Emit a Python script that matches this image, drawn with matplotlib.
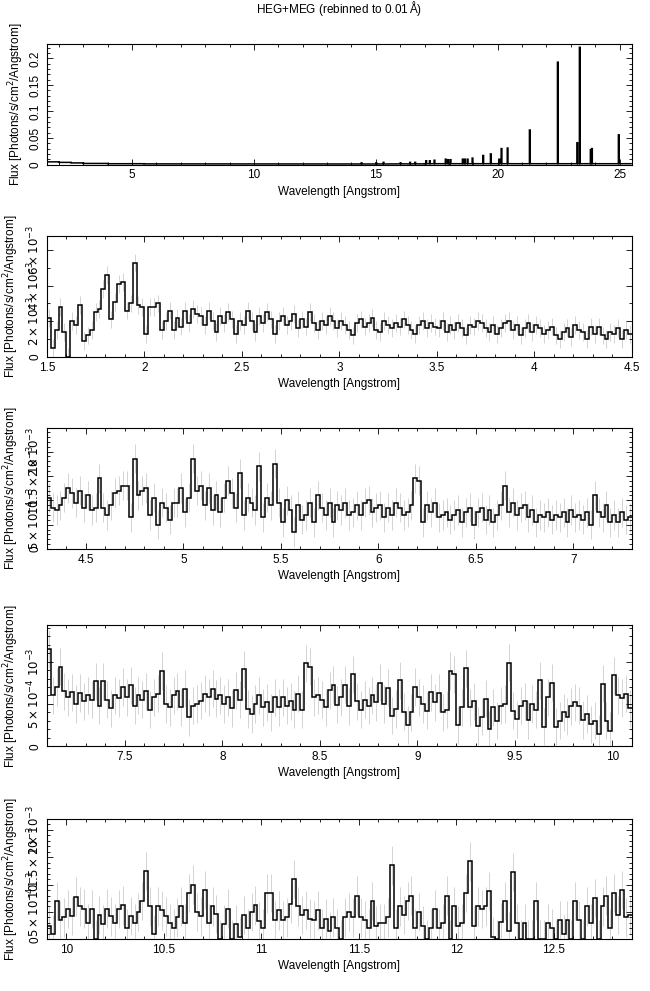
import numpy as np
import matplotlib
matplotlib.use("Agg")
import matplotlib.pyplot as plt
from matplotlib.ticker import FixedLocator, FixedFormatter, AutoMinorLocator

plt.rcParams['font.family'] = ['Liberation Sans', 'DejaVu Sans']
plt.rcParams['font.size'] = 8.5

# ---------------- Panel 1: full range, line list + coarse continuum ----------------
p1_cont_start = 1.5
p1_cont_step = 0.5
p1_cont = [0.005, 0.004, 0.003, 0.002, 0.002, 0.0015, 0.0015, 0.0015, 0.0012, 0.0012,
           0.001, 0.001, 0.001, 0.001, 0.001, 0.001, 0.001, 0.001, 0.001, 0.001,
           0.001, 0.001, 0.001, 0.001, 0.001, 0.001, 0.001, 0.001, 0.0012, 0.0012,
           0.0012, 0.0015, 0.0015, 0.0015, 0.0015, 0.0015, 0.0015, 0.0015, 0.0015, 0.0015,
           0.0015, 0.0015, 0.0015, 0.0015, 0.0015, 0.0015, 0.0015, 0.0015]
p1_line_wl = [14.4, 15.0, 15.3, 16.0, 16.4, 16.6, 17.05, 17.2, 17.4, 17.85, 17.95, 18.05,
              18.55, 18.65, 18.75, 18.95, 19.4, 19.7, 20.05, 20.15, 20.4, 21.3, 22.45,
              23.25, 23.35, 23.8, 23.85, 24.95]
p1_line_flux = [0.003, 0.003, 0.004, 0.003, 0.004, 0.004, 0.007, 0.007, 0.008, 0.010, 0.009, 0.009,
                0.010, 0.010, 0.010, 0.012, 0.017, 0.020, 0.010, 0.030, 0.031, 0.065, 0.193,
                0.041, 0.221, 0.028, 0.030, 0.056]

# ---------------- Panels 2-5: 0.02 A bins ----------------
bin_step = 0.02
p2_start, p2_scale = 1.5, 1e-3
p2 = [2.2,0.5,1.5,2.8,1.4,0.0,2.0,1.8,2.9,0.9,
      1.2,1.5,2.5,2.7,3.8,4.6,2.1,3.1,4.1,4.2,
      2.6,3.0,5.3,2.9,2.8,1.3,2.8,2.8,3.0,1.5,
      2.0,2.6,1.5,2.2,1.7,2.6,1.9,2.7,2.4,2.3,
      1.8,2.6,2.0,1.4,2.3,1.9,2.5,2.1,1.3,2.0,
      1.8,2.6,2.0,1.4,2.3,1.9,2.5,2.1,1.3,2.0,
      2.3,1.8,2.0,2.4,1.6,2.1,1.7,2.5,1.9,1.5,
      2.0,1.8,2.3,2.0,1.6,2.0,1.8,1.5,1.2,1.9,
      2.1,1.7,1.9,2.2,1.5,1.4,2.0,1.8,1.6,1.9,
      1.7,2.1,1.8,1.5,1.3,1.8,2.0,1.6,1.9,1.7,
      1.6,2.0,1.4,1.8,1.5,1.9,1.6,1.2,1.8,1.7,
      2.0,1.9,1.6,1.4,1.8,1.3,1.6,1.9,2.0,1.5,
      1.8,1.2,1.6,1.9,1.4,1.8,1.6,1.3,1.5,1.7,
      1.2,1.0,1.4,1.6,1.1,1.8,1.5,1.4,1.0,1.7,
      1.3,1.7,1.2,1.0,1.4,1.3,1.6,1.0,1.5,1.3]
p2_err = 0.5

p3_start, p3_scale = 4.3, 1e-3
p3 = [1.05,0.85,0.80,0.90,1.05,1.25,1.15,0.95,1.20,0.85,
      1.10,0.80,0.85,1.45,0.85,0.70,0.90,1.15,1.20,1.30,
      1.30,0.65,1.85,1.10,1.20,1.25,0.70,1.05,0.50,0.95,
      0.85,0.60,0.95,0.95,1.25,0.75,1.05,1.85,1.20,1.30,
      0.90,1.25,0.80,1.10,0.75,1.05,1.40,1.15,0.85,1.55,
      0.70,1.05,0.95,0.80,1.70,0.65,1.05,0.90,1.75,0.95,
      0.55,1.00,0.80,0.35,0.90,0.60,0.70,0.95,0.55,1.10,
      0.85,0.70,0.95,0.55,0.90,0.80,0.95,0.70,0.75,0.90,
      0.70,0.95,1.00,0.75,0.85,0.90,0.65,0.85,0.70,0.95,
      0.85,0.70,0.75,0.90,1.45,1.40,0.55,0.90,0.75,0.95,
      0.65,0.70,0.75,0.60,0.70,0.80,0.55,0.75,0.85,0.50,
      0.75,0.85,0.60,0.80,0.55,0.70,0.90,1.30,0.75,0.95,
      0.70,0.85,0.90,0.65,0.80,0.55,0.70,0.65,0.75,0.60,
      0.70,0.65,0.75,0.55,0.80,0.65,0.70,0.60,0.75,0.50,
      1.10,0.75,0.65,0.90,0.55,0.70,0.55,0.75,0.60,0.65]
p3_err = 0.3

p4_start, p4_scale = 7.1, 1e-4
p4 = [11.5,6.0,7.0,9.4,6.5,5.8,6.4,5.0,6.3,5.3,
      6.0,5.5,7.7,4.8,7.7,5.5,4.5,6.0,5.7,7.0,
      5.8,7.2,4.8,6.0,5.5,6.5,4.3,5.8,6.2,8.9,
      5.0,4.6,6.0,6.5,4.6,6.8,3.4,4.8,5.0,5.4,
      6.2,5.8,6.8,5.6,6.0,5.0,5.8,4.5,6.6,5.5,
      9.1,4.4,3.8,5.0,6.0,4.6,5.2,4.0,5.8,4.6,
      5.8,4.8,5.3,4.3,6.2,4.3,9.8,9.4,5.8,6.0,
      5.5,4.6,6.6,7.3,4.9,5.8,7.3,4.7,8.5,5.3,
      4.3,5.5,4.8,6.0,5.2,7.5,5.0,6.9,3.6,4.4,
      7.8,4.1,2.5,4.0,7.0,5.8,5.0,4.2,6.4,5.2,
      6.3,4.0,4.3,8.9,8.5,2.5,4.6,9.2,4.6,5.3,
      2.4,3.5,5.6,2.0,4.6,3.0,4.8,5.0,9.9,4.2,
      3.2,4.8,5.3,3.1,5.0,4.3,7.8,2.3,5.8,7.5,
      2.3,3.0,4.0,3.5,4.7,5.2,4.8,3.1,3.8,2.6,
      3.0,1.5,7.4,3.0,1.8,8.4,6.0,5.7,6.2,4.5]
p4_err = 2.2

p5_start, p5_scale = 9.9, 1e-4
p5 = [2.5,1.0,7.0,3.5,4.0,5.5,4.3,7.8,6.0,5.6,
      3.0,5.5,0.0,4.5,2.8,5.6,4.2,3.0,5.5,6.2,
      2.0,4.3,3.0,5.0,7.0,12.5,6.0,1.0,6.0,5.3,
      4.2,3.0,2.0,4.0,6.0,3.0,8.5,10.0,5.0,4.2,
      9.0,3.0,6.0,4.6,0.0,2.8,5.6,0.0,2.8,0.5,
      4.5,2.0,5.0,6.2,3.4,2.0,8.4,8.5,3.5,5.3,
      3.5,4.0,6.5,11.0,6.0,4.5,5.4,3.8,3.5,5.3,
      2.0,3.8,1.5,4.0,2.0,0.0,4.0,5.0,4.0,8.0,
      4.0,3.5,2.0,7.0,2.5,3.0,3.0,4.0,13.5,2.0,
      6.0,4.5,7.0,8.0,2.0,5.0,2.5,0.0,2.0,5.5,
      2.0,3.0,8.0,0.0,6.0,2.5,3.0,8.5,14.2,2.5,
      6.0,5.5,6.0,8.8,0.5,0.0,3.2,7.0,1.5,12.3,
      3.0,0.0,3.0,0.0,0.0,7.0,0.0,0.0,3.0,2.0,
      0.0,3.5,1.0,3.5,0.0,7.0,3.5,0.0,6.0,3.0,
      7.5,0.0,6.0,8.0,2.0,8.5,4.5,9.0,4.0,4.5]
p5_err = 3.5

XLABEL = "Wavelength [Angstrom]"
YLABEL = "Flux [Photons/s/cm$^2$/Angstrom]"

fig = plt.figure(figsize=(6.5, 9.91), dpi=100)
left, width, height = 0.072, 0.9, 0.122
bottoms = [0.834, 0.640, 0.446, 0.247, 0.052]

def style(ax):
    ax.tick_params(direction='in', top=True, right=True, which='both', length=4, width=0.6)
    ax.tick_params(which='minor', length=2)
    ax.xaxis.set_minor_locator(AutoMinorLocator(5))
    for s in ax.spines.values():
        s.set_linewidth(0.8)
    ax.set_xlabel(XLABEL, labelpad=3)
    ax.set_ylabel(YLABEL, labelpad=3)
    for t in ax.get_yticklabels():
        t.set_rotation(90)
        t.set_va('center')

def step_panel(ax, start, vals, scale, err):
    v = np.array(vals) * scale
    edges = start + bin_step * np.arange(len(v) + 1)
    centers = 0.5 * (edges[:-1] + edges[1:])
    ax.vlines(centers, np.clip(v - err * scale, 0, None), v + err * scale, color='0.8', lw=0.6, zorder=1)
    ax.stairs(v, edges, color='black', lw=1.1, zorder=2, baseline=None)
    ax.set_xlim(edges[0], edges[-1])

# panel 1
ax1 = fig.add_axes([left, bottoms[0], width, height])
fine_step = 0.01
n_fine = int(round(24.0 / fine_step))
edges1 = 1.5 + fine_step * np.arange(n_fine + 1)
flux1 = np.repeat(np.array(p1_cont), int(round(p1_cont_step / fine_step)))[:n_fine].copy()
for wl, fl in zip(p1_line_wl, p1_line_flux):
    i = int((wl - 1.5) / fine_step)
    flux1[i:i + 3] = fl
ax1.stairs(flux1, edges1, color='black', lw=1.1, baseline=None)
ax1.set_xlim(1.5, 25.5)
ax1.set_ylim(0, 0.228)
ax1.yaxis.set_major_locator(FixedLocator([0, 0.05, 0.1, 0.15, 0.2]))
ax1.yaxis.set_major_formatter(FixedFormatter(["0", "0.05", "0.1", "0.15", "0.2"]))
ax1.yaxis.set_minor_locator(AutoMinorLocator(5))
ax1.xaxis.set_major_locator(FixedLocator([5, 10, 15, 20, 25]))
style(ax1)
ax1.set_title("HEG+MEG (rebinned to 0.01$\\,$Å)", fontsize=8.5, pad=22)

# panel 2
ax2 = fig.add_axes([left, bottoms[1], width, height])
step_panel(ax2, p2_start, p2, p2_scale, p2_err)
ax2.set_xlim(1.5, 4.5)
ax2.set_ylim(0, 6.8e-3)
ax2.yaxis.set_major_locator(FixedLocator([0, 2e-3, 4e-3, 6e-3]))
ax2.yaxis.set_major_formatter(FixedFormatter(["0", r"$2\times10^{-3}$", r"$4\times10^{-3}$", r"$6\times10^{-3}$"]))
ax2.yaxis.set_minor_locator(AutoMinorLocator(2))
ax2.xaxis.set_major_locator(FixedLocator([1.5, 2, 2.5, 3, 3.5, 4, 4.5]))
ax2.xaxis.set_major_formatter(FixedFormatter(["1.5", "2", "2.5", "3", "3.5", "4", "4.5"]))
style(ax2)

# panel 3
ax3 = fig.add_axes([left, bottoms[2], width, height])
step_panel(ax3, p3_start, p3, p3_scale, p3_err)
ax3.set_ylim(0, 2.48e-3)
ax3.yaxis.set_major_locator(FixedLocator([0, 5e-4, 1e-3, 1.5e-3, 2e-3]))
ax3.yaxis.set_major_formatter(FixedFormatter(["0", r"$5\times10^{-4}$", r"$10^{-3}$", r"$1.5\times10^{-3}$", r"$2\times10^{-3}$"]))
ax3.yaxis.set_minor_locator(AutoMinorLocator(5))
ax3.xaxis.set_major_locator(FixedLocator([4.5, 5, 5.5, 6, 6.5, 7]))
ax3.xaxis.set_major_formatter(FixedFormatter(["4.5", "5", "5.5", "6", "6.5", "7"]))
style(ax3)

# panel 4
ax4 = fig.add_axes([left, bottoms[3], width, height])
step_panel(ax4, p4_start, p4, p4_scale, p4_err)
ax4.set_ylim(0, 1.43e-3)
ax4.yaxis.set_major_locator(FixedLocator([0, 5e-4, 1e-3]))
ax4.yaxis.set_major_formatter(FixedFormatter(["0", r"$5\times10^{-4}$", r"$10^{-3}$"]))
ax4.yaxis.set_minor_locator(AutoMinorLocator(5))
ax4.xaxis.set_major_locator(FixedLocator([7.5, 8, 8.5, 9, 9.5, 10]))
ax4.xaxis.set_major_formatter(FixedFormatter(["7.5", "8", "8.5", "9", "9.5", "10"]))
style(ax4)

# panel 5
ax5 = fig.add_axes([left, bottoms[4], width, height])
step_panel(ax5, p5_start, p5, p5_scale, p5_err)
ax5.set_ylim(0, 2.2e-3)
ax5.yaxis.set_major_locator(FixedLocator([0, 5e-4, 1e-3, 1.5e-3, 2e-3]))
ax5.yaxis.set_major_formatter(FixedFormatter(["0", r"$5\times10^{-4}$", r"$10^{-3}$", r"$1.5\times10^{-3}$", r"$2\times10^{-3}$"]))
ax5.yaxis.set_minor_locator(AutoMinorLocator(5))
ax5.xaxis.set_major_locator(FixedLocator([10, 10.5, 11, 11.5, 12, 12.5]))
ax5.xaxis.set_major_formatter(FixedFormatter(["10", "10.5", "11", "11.5", "12", "12.5"]))
style(ax5)

fig.savefig("out.png", dpi=100)
